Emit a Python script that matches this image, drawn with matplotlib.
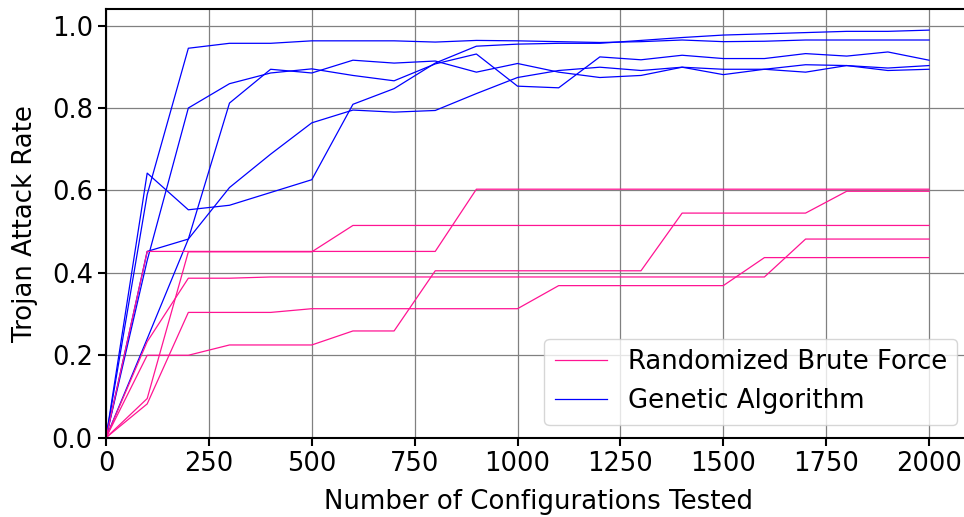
import numpy as np
import matplotlib
matplotlib.use("Agg")
import matplotlib.pyplot as plt

# configurations tested (x axis)
configs = list(range(0, 2100, 100))

# Genetic Algorithm runs
ga_run1 = [0, 0.59, 0.945, 0.957, 0.957, 0.963, 0.963, 0.963, 0.960, 0.964, 0.963,
           0.961, 0.959, 0.961, 0.965, 0.961, 0.962, 0.965, 0.965, 0.965, 0.965]
ga_run2 = [0, 0.43, 0.800, 0.859, 0.885, 0.895, 0.879, 0.866, 0.907, 0.931, 0.853,
           0.849, 0.924, 0.917, 0.928, 0.920, 0.920, 0.932, 0.926, 0.936, 0.916]
ga_run3 = [0, 0.24, 0.482, 0.812, 0.894, 0.885, 0.916, 0.909, 0.914, 0.887, 0.908,
           0.887, 0.874, 0.879, 0.899, 0.881, 0.894, 0.887, 0.903, 0.891, 0.894]
ga_run4 = [0, 0.452, 0.482, 0.607, 0.688, 0.764, 0.795, 0.790, 0.794, 0.835, 0.874,
           0.891, 0.899, 0.891, 0.899, 0.894, 0.894, 0.905, 0.903, 0.897, 0.903]
ga_run5 = [0, 0.642, 0.553, 0.564, 0.595, 0.626, 0.809, 0.847, 0.909, 0.950, 0.955,
           0.957, 0.957, 0.964, 0.971, 0.977, 0.980, 0.983, 0.986, 0.986, 0.989]

# Randomized Brute Force runs
rb_run1 = [0, 0.200, 0.200, 0.225, 0.225, 0.225, 0.259, 0.259, 0.405, 0.405, 0.405,
           0.405, 0.405, 0.405, 0.545, 0.545, 0.545, 0.545, 0.598, 0.598, 0.598]
rb_run2 = [0, 0.082, 0.304, 0.304, 0.304, 0.313, 0.313, 0.313, 0.313, 0.313, 0.313,
           0.369, 0.369, 0.369, 0.369, 0.369, 0.437, 0.437, 0.437, 0.437, 0.437]
rb_run3 = [0, 0.233, 0.387, 0.387, 0.390, 0.390, 0.390, 0.390, 0.390, 0.390, 0.390,
           0.390, 0.390, 0.390, 0.390, 0.390, 0.390, 0.482, 0.482, 0.482, 0.482]
rb_run4 = [0, 0.095, 0.451, 0.451, 0.451, 0.451, 0.515, 0.515, 0.515, 0.515, 0.515,
           0.515, 0.515, 0.515, 0.515, 0.515, 0.515, 0.515, 0.515, 0.515, 0.515]
rb_run5 = [0, 0.452, 0.452, 0.452, 0.452, 0.452, 0.452, 0.452, 0.452, 0.603, 0.603,
           0.603, 0.603, 0.603, 0.603, 0.603, 0.603, 0.603, 0.603, 0.603, 0.603]

ga_runs = [ga_run1, ga_run2, ga_run3, ga_run4, ga_run5]
rb_runs = [rb_run1, rb_run2, rb_run3, rb_run4, rb_run5]

pink = "#ff1493"
blue = "#0000ff"

fig = plt.figure(figsize=(9.64, 5.17), dpi=100)
ax = fig.add_axes([0.11, 0.1534, 0.8964, 0.829])

for run in ga_runs:
    ga_line, = ax.plot(configs, run, color=blue, linewidth=0.9)
for run in rb_runs:
    rb_line, = ax.plot(configs, run, color=pink, linewidth=0.9)

ax.set_xlim(0, 2100)
ax.set_ylim(0, 1.04)
ax.set_xticks(range(0, 2001, 250))
ax.set_yticks(np.arange(0, 1.01, 0.2))
ax.set_yticklabels(["0.0", "0.2", "0.4", "0.6", "0.8", "1.0"])
ax.grid(True, color="grey", linewidth=0.9)
ax.tick_params(labelsize=18.5, width=1.5, length=6)
for s in ax.spines.values():
    s.set_linewidth(1.5)

ax.set_xlabel("Number of Configurations Tested", fontsize=18.7, labelpad=9)
ax.set_ylabel("Trojan Attack Rate", fontsize=18.7, labelpad=10)
ax.legend([rb_line, ga_line], ["Randomized Brute Force", "Genetic Algorithm"],
          loc="lower right", fontsize=18.7)

fig.savefig("out.png", dpi=100)
